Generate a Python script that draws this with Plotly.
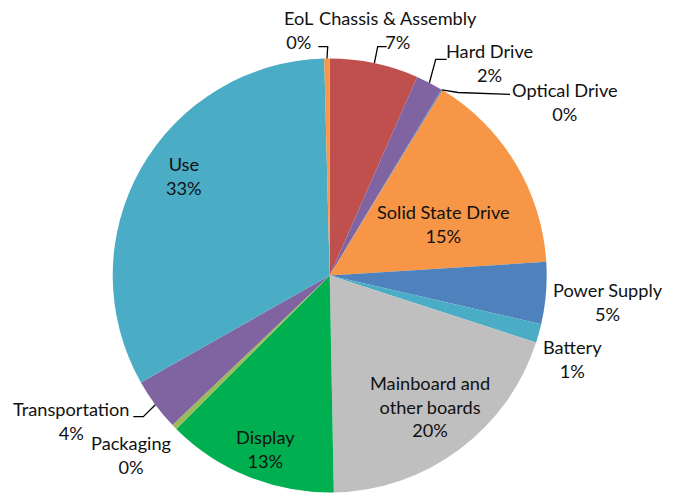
import math
import plotly.graph_objects as go

# ---- data ----
categories = ["Chassis & Assembly", "Hard Drive", "Optical Drive", "Solid State Drive",
              "Power Supply", "Battery", "Mainboard and other boards", "Display",
              "Packaging", "Transportation", "Use", "EoL"]
values = [6.6, 2.0, 0.1, 15.3, 4.6, 1.4, 19.7, 12.8, 0.4, 3.9, 32.8, 0.4]
label_text = ["Chassis & Assembly", "Hard Drive", "Optical Drive", "Solid State Drive",
              "Power Supply", "Battery", "Mainboard and<br>other boards", "Display",
              "Packaging", "Transportation", "Use", "EoL"]

# ---- styles / layout ----
colors = ["#C0504D", "#8064A2", "#4F81BD", "#F79646", "#4F81BD", "#4BACC6",
          "#BFBFBF", "#00B050", "#9BBB59", "#8064A2", "#4BACC6", "#F79646"]
W, H = 675, 493
OFF = 8  # default page body margin
CX, CY, R = 329.7, 275.5, 217.0
FONT = "Lato"
FSIZE = 18.2

# label block centres (screen px from top-left)
label_pos = {
    "Chassis & Assembly": (397.5, 30),
    "Hard Drive": (489, 63.5),
    "Optical Drive": (565, 101.5),
    "Solid State Drive": (443, 224.5),
    "Power Supply": (608, 302),
    "Battery": (572, 359),
    "Mainboard and other boards": (430, 406.5),
    "Display": (265, 448.5),
    "Packaging": (131, 454.5),
    "Transportation": (71, 421),
    "Use": (184, 176.5),
    "EoL": (299, 30),
}
# leader line bend / end points (screen px)
leader_pts = {
    "EoL": [(327.7, 46.7), (318.3, 46.7)],
    "Chassis & Assembly": [(377.7, 46.7), (386.7, 46.7)],
    "Hard Drive": [(435.7, 59.3), (446.7, 59.3)],
    "Optical Drive": [(458, 92.5), (510, 94.3)],
    "Transportation": [(143.3, 416.7), (133.3, 416.7)],
}


def px(x, y):
    return (x - OFF) / W, 1 - (y - OFF) / H


total = sum(values)
x0, y0 = px(CX - R, CY + R)
x1, y1 = px(CX + R, CY - R)
fig = go.Figure(go.Pie(
    labels=categories, values=values, sort=False, direction="clockwise", rotation=0,
    marker=dict(colors=colors, line=dict(width=0)), textinfo="none",
    hoverinfo="label+percent", showlegend=False,
    domain=dict(x=[x0, x1], y=[y0, y1]),
))

annotations = []
shapes = []
cum = 0.0
for cat, txt, v in zip(categories, label_text, values):
    mid = (cum + v / 2) / total * 2 * math.pi
    cum += v
    pct = round(v / total * 100)
    ax, ay = px(*label_pos[cat])
    annotations.append(dict(
        x=ax, y=ay, xref="paper", yref="paper", xanchor="center", yanchor="middle",
        text=f"{txt}<br>{pct}%", showarrow=False, align="center",
        font=dict(family=FONT, size=FSIZE, color="#111111")))
    if cat in leader_pts:
        ex, ey = CX + R * math.sin(mid), CY - R * math.cos(mid)
        pts = [(ex, ey)] + leader_pts[cat]
        path = "M " + " L ".join(f"{px(a, b)[0]:.5f},{px(a, b)[1]:.5f}" for a, b in pts)
        shapes.append(dict(type="path", path=path, xref="paper", yref="paper",
                           line=dict(color="#000000", width=1.3)))

fig.update_layout(
    width=W, height=H, margin=dict(l=0, r=0, t=0, b=0),
    paper_bgcolor="white", plot_bgcolor="white",
    annotations=annotations, shapes=shapes,
    font=dict(family=FONT, size=FSIZE),
)
fig.write_html("out.html")
